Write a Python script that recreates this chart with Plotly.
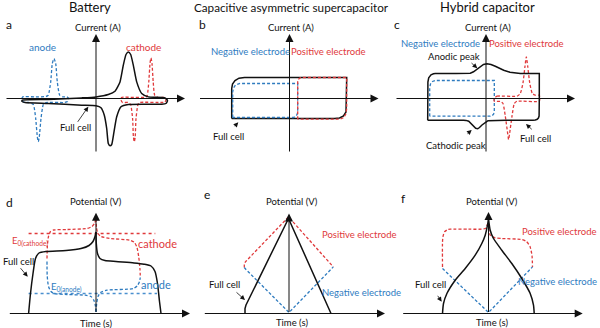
import plotly.graph_objects as go

W, H = 600, 328
BLACK = "#111111"
RED = "#E0393B"
BLUE = "#2E7BBF"
FONT = "Lato"

# ---------------- data (arbitrary units, origin = axis crossing) ----------------
# (a) Battery CV
A_FULL_X = [-73.7, -47.7, -14.3, 0, 12.3, 19, 24, 27.3, 30, 32.3, 34.7, 37.3, 40.7, 45.7, 52.3, 69, 71.5, 70,
            65.7, 32.3, 25, 20.7, 18, 15.7, 14, 12.3, 10.7, 8.3, 5, 0, -14.3, -47.7, -71, -74, -73.7]
A_FULL_Y = [-1.7, -1, 0.6, 1.6, 4, 7.3, 16.6, 33.3, 44, 46.6, 44, 33.3, 16.6, 5, 1.6, 0.6, -2, -5,
            -5.7, -6, -8.3, -18.3, -33.3, -46, -47.3, -45, -30, -16.7, -9.3, -7.3, -6.7, -5, -4, -3, -1.7]
A_ANODE_X = [-73.5, -60, -50, -47.7, -45.3, -43.7, -42, -40.3, -38.7, -36.3, -32.7, -29, -27.5, -28.5, -32,
             -50, -52.7, -55, -56.7, -57.7, -58.7, -60.3, -62.7, -67.7, -72.5, -74, -73.5]
A_ANODE_Y = [1.6, 1.6, 2, 3.3, 16.6, 35, 40, 35, 16.6, 3.3, 1.6, 1.6, 0, -3, -4,
             -4, -6, -20, -38.3, -43.3, -38.3, -20, -6, -4, -3.5, -1, 1.6]
A_CATH_X = [25.5, 40, 50, 51.3, 52.8, 54, 55, 56, 57.2, 58.7, 62, 68.5, 70, 69, 66,
            44, 42, 40, 39.2, 38.3, 37.4, 36.6, 34.6, 32, 26.5, 25, 25.5]
A_CATH_Y = [1, 1, 1.3, 3.3, 16.6, 35, 40.6, 35, 16.6, 3.3, 1, 1, -0.5, -3.5, -4,
            -4, -6, -20, -38.3, -43.4, -38.3, -20, -6, -4, -4, -1.5, 1]

# (b) Capacitive asymmetric supercapacitor CV
B_FULL_X = [-57.8, -57.8, -57.0, -54.5, -50.5, -45, 57.2, 57.2, 56.5, 54, 50, 45, -57.8]
B_FULL_Y = [-20, 10, 14.5, 18, 20.3, 21, 21, -9, -13.5, -17.5, -19.5, -20, -20]
B_NEG_X = [-56.8, -56.8, -56, -54, -49.5, 8.2, 8.2, 7.6, 6, 3.8, -56.8]
B_NEG_Y = [-19, 6.7, 10.5, 13.5, 15, 15, -13.3, -16, -18, -19, -19]
B_POS_X = [8.2, 8.2, 9, 10.3, 12.2, 57.2, 57.2, 56.5, 54.5, 50.5, 8.2]
B_POS_Y = [-20.7, 16.6, 19.2, 20.5, 21, 21, -10, -15, -19, -20.7, -20.7]

# (c) Hybrid capacitor CV (full cell split into straight and curved parts)
C_FULL_X = [-58.3, -58.3, -58.1, -57.3, -55, -52.5, -50.7, -30, -18, -15.7, -12.5, -8.5, -5.7, -2.5, 1, 5, 9.3,
            17.7, 24, 27.7, 31, 34.3, 45, 53.3, 53.3, 53.3, 53.1, 52.4, 51.2, 49.3, 47, 20, 6.5, 4.3,
            2, 1, -1.5, -4, -6.5, -8.3, -10.3, -12.3, -15, -17.3, -20, -22.3, -40, -58.3, -58.3]
C_FULL_Y = [-21.7, 13, 16.5, 20.7, 23.7, 24.7, 25, 25, 25, 25.3, 26.7, 30, 32, 34, 34.7, 34, 32.3,
            28.3, 26.2, 25.5, 25.1, 25, 25, 25, 0, -15, -17.5, -19.5, -20.8, -21.5, -21.7, -21.7, -21.7, -21.8,
            -22.2, -22.8, -24.5, -26.5, -29, -30.3, -29.8, -27.7, -24.5, -22.7, -21.9, -21.7, -21.7, -21.7, -21.7]
C_NEG_X = [-56.3, -56.3, -55.5, -53.5, -50.7, 8.3, 8.3, 7.7, 6.3, 4.3, -56.3]
C_NEG_Y = [-17.7, 10.7, 14.5, 17, 18, 18, -12.7, -15.5, -17, -17.7, -17.7]
C_POS_X = [8.3, 11, 31, 34.3, 37, 39, 40.3, 41.7, 43.7, 46.3, 49.3, 53.3, 53.3,
           31, 28.3, 26, 23.7, 22.6, 21.6, 19.3, 17, 14.3, 8.3, 8.3]
C_POS_Y = [0, 2.3, 2.3, 5, 15.7, 32.3, 41.7, 32.3, 15.7, 5, 3.3, 3.3, -2.7,
           -2.7, -5, -17.7, -34.3, -41, -34.3, -17.7, -5, -3, -2.7, 0]

# (d) Battery charge/discharge
D_CHG_X = [-67.4, -65.5, -63, -60.5, -57, -50, -30, -15, -7, -3, -1, 0]
D_CHG_Y = [0, 20, 40, 55, 60.5, 62, 63, 65, 68, 72, 77, 81.6]
D_DIS_X = [0, 0.3, 1.5, 4, 9, 20, 38, 48, 55, 59, 61.5, 63.5, 65]
D_DIS_Y = [81.6, 70, 60, 55, 53, 52, 50.6, 49.3, 47.5, 42, 30, 12, 0]
D_CATH_L_X = [-49, -48.6, -47.5, -45.5, -42.4, -29, -9, -4, -1.5, 0]
D_CATH_L_Y = [55, 68, 77, 82, 83.5, 84, 85, 87, 90, 95]
D_CATH_R_X = [0, 0.5, 2, 5, 14, 34, 38.5, 41, 42.8, 44, 44.3]
D_CATH_R_Y = [95, 86, 80, 77, 75, 73.3, 71, 66, 56, 44, 36]
D_AN_L_X = [-49, -48.8, -47.5, -45, -42, -29, -10.7, -5, -2, -0.7, 0]
D_AN_L_Y = [52, 38, 27, 22, 20, 19, 18.3, 17, 13, 8, 1.6]
D_AN_R_X = [0, 0.7, 2, 4.5, 11, 37.6, 41.5, 43.5, 44.3]
D_AN_R_Y = [1.6, 10, 17, 21, 23.3, 25, 28, 32, 36]
D_E0_CATH_X = [-67.4, 59.3]
D_E0_CATH_Y = [80, 80]
D_E0_AN_X = [-67.4, 61]
D_E0_AN_Y = [20, 20]

# (e) Capacitive charge/discharge
E_FULL_X = [-44, -44, -43, -0.5, 42]
E_FULL_Y = [0, 5, 8.5, 95, 0]
E_POS_X = [-44.7, -44.7, -43, -0.5, 44.3]
E_POS_Y = [46, 50, 52.3, 96.6, 46.6]
E_NEG_X = [-44.7, -43, 0, 44.3]
E_NEG_Y = [46, 44, 1, 46.6]

# (f) Hybrid charge/discharge
F_FULL_L_X = [-46, -45, -41.6, -33.3, -23.3, -13.3, -6.7, -3.3, -1, 0]
F_FULL_L_Y = [0, 10, 20, 33.3, 45, 58.3, 70, 78.3, 88.3, 95]
F_FULL_R_X = [0, 1.7, 5, 13.3, 23.3, 33.3, 41.7, 45, 45.7]
F_FULL_R_Y = [95, 83.3, 75, 63.3, 50, 35, 20, 8.3, 0]
F_POS_L_X = [-46, -46, -45.5, -44, -41, -38.3, -20, -3.3, -0.7]
F_POS_L_Y = [46.6, 71.6, 77, 81.6, 83.8, 84.3, 84.3, 85, 90]
F_POS_R_X = [-0.7, 1.7, 6.7, 13.3, 33.3, 38, 41.5, 43.5, 44]
F_POS_R_Y = [90, 78.3, 75.6, 75, 74, 72, 67, 58, 46.6]
F_NEG_X = [-46, 0, 44]
F_NEG_Y = [45, 1, 46.6]

TITLES = ["Battery", "Capacitive asymmetric supercapacitor", "Hybrid capacitor"]
LETTERS = ["a", "b", "c", "d", "e", "f"]

# ---------------- layout helpers ----------------
ORIG = {"a": (96, 98.5), "b": (289.5, 98.5), "c": (486, 98.5),
        "d": (96, 313.5), "e": (289, 313.5), "f": (488.5, 313.5)}
IDX = {"a": "", "b": "2", "c": "3", "d": "4", "e": "5", "f": "6"}

fig = go.Figure()
layout = dict(width=W, height=H, margin=dict(l=0, r=0, t=0, b=0),
              paper_bgcolor="white", plot_bgcolor="rgba(0,0,0,0)", showlegend=False,
              font=dict(family=FONT, color=BLACK))
for p, (ox, oy) in ORIG.items():
    i = IDX[p]
    layout["xaxis" + i] = dict(domain=[0, 1], range=[-ox, W - ox], visible=False, fixedrange=True,
                               anchor="y" + i)
    layout["yaxis" + i] = dict(domain=[0, 1], range=[oy - H, oy], visible=False, fixedrange=True,
                               anchor="x" + i)
fig.update_layout(**layout)

annotations = []


def refs(p):
    i = IDX[p]
    return "x" + i, "y" + i


def line(p, x, y, color=BLACK, width=1.5, dash=None, shape="spline", smooth=0.6):
    xr, yr = refs(p)
    ln = dict(color=color, width=width, shape=shape)
    if shape == "spline":
        ln["smoothing"] = smooth
    if dash:
        ln["dash"] = dash
    fig.add_trace(go.Scatter(x=x, y=y, mode="lines", line=ln, xaxis=xr, yaxis=yr,
                             hoverinfo="skip"))


def arrow(p, x0, y0, x1, y1, width=1.0, size=1.6, head=2, color=BLACK):
    xr, yr = refs(p)
    annotations.append(dict(x=x1, y=y1, ax=x0, ay=y0, xref=xr, yref=yr, axref=xr, ayref=yr,
                            text="", showarrow=True, arrowhead=head, arrowsize=size,
                            arrowwidth=width, arrowcolor=color))


def text(p, x, y, s, color=BLACK, size=9.5, xanchor="center"):
    xr, yr = refs(p)
    annotations.append(dict(x=x, y=y, xref=xr, yref=yr, text=s, showarrow=False,
                            font=dict(size=size, color=color, family=FONT),
                            xanchor=xanchor, yanchor="middle"))


DASH = "3px,2px"

# ----- axes -----
for p in "abc":
    arrow(p, -91, 0, 89, 0)
    arrow(p, 0, -54.5, 0, 64.5)
    text(p, 1.5, 71.5, "Current (A)", size=9.5)
for p, (x0, x1, yt) in {"d": (-87.7, 94, 100.8), "e": (-85.7, 96, 100), "f": (-86.8, 94.2, 101.5)}.items():
    arrow(p, x0, 0, x1, 0)
    arrow(p, 0, 0, 0, yt)

# ----- (a) -----
line("a", A_ANODE_X, A_ANODE_Y, BLUE, 1.3, DASH, smooth=0.5)
line("a", A_CATH_X, A_CATH_Y, RED, 1.3, DASH, smooth=0.5)
line("a", A_FULL_X, A_FULL_Y, BLACK, 1.5, smooth=0.5)
text("a", -53.3, 51.8, "anode", BLUE, size=10)
text("a", 47.8, 51.8, "cathode", RED, size=10)
text("a", -21, -29.2, "Full cell")
arrow("a", -19.3, -24.8, -7.7, -8.2, width=0.8, size=1.2)

# ----- (b) -----
line("b", B_FULL_X, B_FULL_Y, BLACK, 1.5, shape="linear")
line("b", B_NEG_X, B_NEG_Y, BLUE, 1.3, DASH, shape="linear")
line("b", B_POS_X, B_POS_Y, RED, 1.3, DASH, shape="linear")
text("b", -39, 46.8, "Negative electrode", BLUE)
text("b", 39.3, 46.8, "Positive electrode", RED)
text("b", -61.2, -38.2, "Full cell")
arrow("b", -56.2, -29.2, -51.2, -23.8, width=0.8, size=1.2)

# ----- (c) -----
line("c", C_NEG_X, C_NEG_Y, BLUE, 1.3, DASH, shape="linear")
line("c", C_POS_X, C_POS_Y, RED, 1.3, DASH, smooth=0.5)
line("c", C_FULL_X, C_FULL_Y, BLACK, 1.5, shape="linear")
text("c", -45.2, 55.2, "Negative electrode", BLUE)
text("c", 40.3, 55.2, "Positive electrode", RED)
text("c", -32.3, 41.8, "Anodic peak")
arrow("c", -16, 36.8, -8.7, 30.2, width=0.8, size=1.2)
text("c", -30.2, -46.5, "Cathodic peak")
arrow("c", -20, -36.5, -14.3, -31.5, width=0.8, size=1.2)
text("c", 49, -39.8, "Full cell")
arrow("c", 47.3, -32.2, 40, -25.5, width=0.8, size=1.2)

# ----- (d) -----
line("d", D_E0_CATH_X, D_E0_CATH_Y, RED, 1.5, "dot", shape="linear")
line("d", D_E0_AN_X, D_E0_AN_Y, "#4A90CF", 1.5, "dot", shape="linear")
line("d", D_CATH_L_X, D_CATH_L_Y, RED, 1.3, DASH)
line("d", D_CATH_R_X, D_CATH_R_Y, RED, 1.3, DASH)
line("d", D_AN_L_X, D_AN_L_Y, BLUE, 1.3, DASH)
line("d", D_AN_R_X, D_AN_R_Y, BLUE, 1.3, DASH)
line("d", D_CHG_X, D_CHG_Y, BLACK, 1.5)
line("d", D_DIS_X, D_DIS_Y, BLACK, 1.5)
text("d", -66.5, 71.8, "E<sub>0(cathode)</sub>", RED)
text("d", 61.5, 70.5, "cathode", RED, size=11)
text("d", -29.3, 26.5, "E<sub>0(anode)</sub>", BLUE)
text("d", 60, 29.5, "anode", BLUE, size=11)
text("d", -95.5, 51.8, "Full cell", xanchor="left")
arrow("d", -76.7, 46.8, -68.3, 36.8, width=0.8, size=1.2)
text("d", 0, 111.8, "Potential (V)")
text("d", 0, -9.8, "Time (s)")

# ----- (e) -----
line("e", E_POS_X, E_POS_Y, RED, 1.3, DASH, shape="linear")
line("e", E_NEG_X, E_NEG_Y, BLUE, 1.3, DASH, shape="linear")
line("e", E_FULL_X, E_FULL_Y, BLACK, 1.5, shape="linear")
text("e", 70.3, 79.2, "Positive electrode", RED)
text("e", 72.7, 20.8, "Negative electrode", BLUE)
text("e", -65, 29.2, "Full cell")
arrow("e", -54, 22.5, -44, 13.5, width=0.8, size=1.2)
text("e", 2.7, 111.8, "Potential (V)")
text("e", 2.7, -8.8, "Time (s)")

# ----- (f) -----
line("f", F_POS_L_X, F_POS_L_Y, RED, 1.3, DASH)
line("f", F_POS_R_X, F_POS_R_Y, RED, 1.3, DASH)
line("f", F_NEG_X, F_NEG_Y, BLUE, 1.3, DASH, shape="linear")
line("f", F_FULL_L_X, F_FULL_L_Y, BLACK, 1.5)
line("f", F_FULL_R_X, F_FULL_R_Y, BLACK, 1.5)
text("f", 70.5, 82.5, "Positive electrode", RED)
text("f", 110.5, 32.5, "Negative electrode", BLUE, xanchor="right")
text("f", -58.2, 29.2, "Full cell")
arrow("f", -51.8, 19.2, -46.8, 11.8, width=0.8, size=1.2)
text("f", 3.2, 112.5, "Potential (V)")
text("f", 3.2, -8.5, "Time (s)")

# ----- titles and panel letters (paper coords) -----
for s, px, fs in zip(TITLES, [90, 291.7, 487.8], [13, 11.7, 13]):
    annotations.append(dict(x=px / W, y=1 - 7 / H, xref="paper", yref="paper", text=s,
                            showarrow=False, font=dict(size=fs, color=BLACK, family=FONT),
                            xanchor="center", yanchor="middle"))
for s, (px, py) in zip(LETTERS, [(4, 25), (197, 25), (392, 25), (4, 202), (202, 194), (398.5, 198)]):
    annotations.append(dict(x=px / W, y=1 - py / H, xref="paper", yref="paper", text=s,
                            showarrow=False, font=dict(size=12, color=BLACK, family=FONT),
                            xanchor="left", yanchor="middle"))

fig.update_layout(annotations=annotations)
fig.write_html("out.html")
